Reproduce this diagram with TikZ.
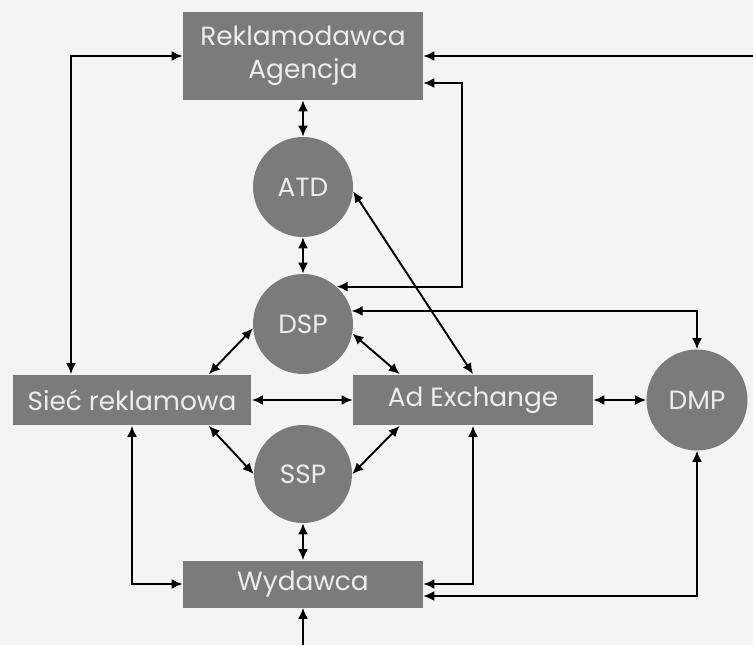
\documentclass[tikz,border=0pt]{standalone}
\usepackage{fontspec}
\setmainfont{Poppins}
\usepackage{tikz}
\usetikzlibrary{shapes}
\usetikzlibrary{arrows.meta}
\definecolor{boxgray}{HTML}{7B7B7B}
\definecolor{boxtext}{HTML}{EDEDED}
\definecolor{paper}{HTML}{F4F4F4}
\tikzset{
	main node/.style={circle,fill=boxgray,text=boxtext,minimum size=2cm,inner sep=0pt,font=\fontsize{15}{17}\selectfont},
	box/.style={rectangle,fill=boxgray,text=boxtext,minimum width=4.8cm,inner sep=0pt,align=center,font=\fontsize{15}{19}\selectfont},
	link/.style={line width=1.1pt}
}

\begin{document}
\begin{tikzpicture}[x=0.02cm,y=-0.02cm,<->,>={Latex[length=2.2mm,width=2mm]}]
	\fill[paper] (0,0) rectangle (753,645);
	\useasboundingbox (0,0) rectangle (753,645);
	\node [box,minimum height=1.76cm] (rekl) at (303,56) {Reklamodawca\\Agencja};
	\node [main node] (atd) at (303,187) {ATD};
	\node [main node] (dsp) at (303,324) {DSP};
	\node [box,minimum height=1.02cm,minimum width=4.78cm] (siec) at (132,400) {Sieć reklamowa};
	\node [box,minimum height=1.02cm] (adx) at (473,400) {Ad Exchange};
	\node [main node,minimum size=2.02cm] (dmp) at (697,400) {DMP};
	\node [main node,minimum size=1.96cm] (ssp) at (303,474) {SSP};
	\node [box,minimum height=0.94cm] (wyd) at (303,584) {Wydawca};
	\coordinate (lk) at (71,56);
	\coordinate (rk) at (462,83);
	\coordinate (re) at (753,56);
	\coordinate (be) at (303,645);
	% top part
	\draw [link] (siec.north -| lk) |- (rekl.west);
	\draw [link,->] (re) -- (rekl.east);
	\draw [link] (dsp.48) -| (rk) -- (rekl.east |- rk);
	\draw [link] (rekl.south) -- (atd.north);
	\draw [link] (atd.south) -- (dsp.north);
	\draw [link] (atd.-5) -- (adx.north);
	\draw [link] (dsp.15) -| (dmp.north);
	% middle
	\draw [link] ([xshift=-0.86cm]siec.north east) -- (dsp.185);
	\draw [link] (dsp.-11) -- ([xshift=0.94cm]adx.north west);
	\draw [link] (siec.east) -- (adx.west);
	\draw [link] (adx.east) -- (dmp.west);
	\draw [link] ([xshift=-0.86cm]siec.south east) -- (ssp.180);
	\draw [link] (ssp.0) -- ([xshift=0.94cm]adx.south west);
	% bottom part
	\draw [link] (ssp.south) -- (wyd.north);
	\draw [link] (siec.south) |- (wyd.west);
	\draw [link] (adx.south) |- (wyd.east);
	\draw [link] (dmp.south) |- ([yshift=-0.24cm]wyd.east);
	\draw [link,->] (be) -- (wyd.south);
\end{tikzpicture}
\end{document}
